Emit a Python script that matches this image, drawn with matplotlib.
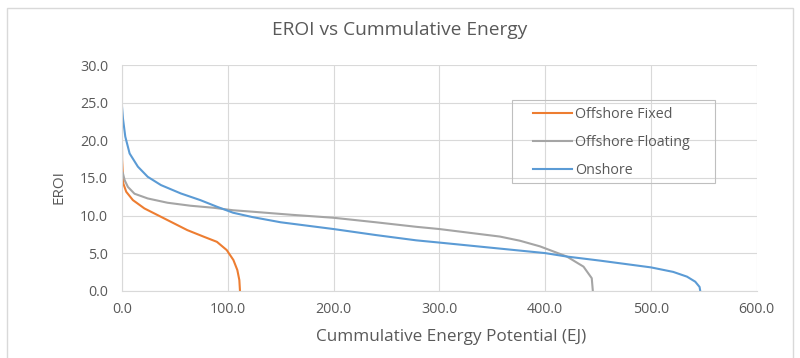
import numpy as np
import matplotlib.pyplot as plt
from matplotlib.patches import Rectangle

# values (cumulative EJ, EROI)
fixed_x = [0, 0.1, 1.2, 4, 10.3, 21.2, 33.6, 49.2, 61.7, 77.3, 89.7, 99, 105.3, 109, 110.9, 111.5]
fixed_y = [19.05, 17.4, 14.27, 13.16, 12.05, 10.94, 10.06, 8.95, 8.06, 7.18, 6.5, 5.4, 4.08, 2.75, 1.42, 0.0]

floating_x = [0, 0.9, 2.5, 5.6, 11.8, 24.3, 43, 64.8, 86.6, 105, 124, 160, 200, 240,
              278, 300, 357.2, 376, 395, 420.4, 436.2, 444, 445]
floating_y = [15.9, 15.6, 14.7, 13.8, 12.9, 12.27, 11.7, 11.3, 11.03, 10.7, 10.5, 10.1, 9.7, 9.1,
              8.5, 8.2, 7.2, 6.65, 5.9, 4.55, 3.2, 1.66, 0.0]

onshore_x = [0, 0.9, 3.1, 7.2, 15, 24.3, 36.8, 55.5, 74, 89.7, 105, 123, 150, 200, 240,
             278, 300, 350, 400, 420, 451.8, 500, 521, 534, 541.8, 545.9, 546.5]
onshore_y = [24.5, 22.9, 20.5, 18.25, 16.5, 15.15, 14.05, 12.94, 12.05, 11.17, 10.37, 9.8, 9.1, 8.2, 7.4,
             6.7, 6.4, 5.7, 5.0, 4.55, 4.0, 3.1, 2.5, 1.87, 1.2, 0.5, 0.0]

TEXT = '#595959'
GRID = '#d9d9d9'

plt.rcParams['font.family'] = ['Open Sans', 'DejaVu Sans']

fig = plt.figure(figsize=(8, 3.58), dpi=100)
ax = fig.add_axes([0.1525, 0.188, 0.7935, 0.63])

ax.plot(fixed_x, fixed_y, color='#ED7D31', lw=1.5, label='Offshore Fixed')
ax.plot(floating_x, floating_y, color='#A5A5A5', lw=1.5, label='Offshore Floating')
ax.plot(onshore_x, onshore_y, color='#5B9BD5', lw=1.5, label='Onshore')

ax.set_xlim(0, 600)
ax.set_ylim(0, 30)
ax.set_xticks(np.arange(0, 601, 100))
ax.set_yticks(np.arange(0, 31, 5))
ax.xaxis.set_major_formatter(lambda v, p: f'{v:.1f}')
ax.yaxis.set_major_formatter(lambda v, p: f'{v:.1f}')
ax.grid(True, color=GRID, lw=0.8)
ax.set_axisbelow(True)
for s in ['top', 'right']:
    ax.spines[s].set_visible(False)
for s in ['left', 'bottom']:
    ax.spines[s].set_color(GRID)
ax.tick_params(length=0, labelsize=10.3, colors=TEXT)
ax.tick_params(axis='x', pad=8)
ax.tick_params(axis='y', pad=10)

ax.set_xlabel('Cummulative Energy Potential (EJ)', fontsize=12.3, color=TEXT)
ax.xaxis.set_label_coords(0.518, -0.17)
ax.set_ylabel('EROI', fontsize=11, color=TEXT)
ax.yaxis.set_label_coords(-0.087, 0.46)
fig.text(0.5, 0.915, 'EROI vs Cummulative Energy', ha='center', va='center',
         fontsize=13.8, color=TEXT)

# legend entries without frame, box drawn separately to match the padding
leg = ax.legend(loc='upper left', bbox_to_anchor=(533 / 800, 1 - 107 / 358),
                bbox_transform=fig.transFigure, fontsize=10.3, frameon=False,
                handlelength=2.7, labelspacing=0.9, borderpad=0,
                handletextpad=0.25, borderaxespad=0)
for t in leg.get_texts():
    t.set_color(TEXT)
fig.patches.append(Rectangle((512 / 800, 1 - 183 / 358), 203 / 800, 83 / 358,
                             transform=fig.transFigure, fill=False,
                             edgecolor='#bfbfbf', lw=0.8))

# outer chart border (bottom edge falls outside the picture)
fig.patches.append(Rectangle((7 / 800, -0.02), 786 / 800, 1 - 8 / 358 + 0.02,
                             transform=fig.transFigure, fill=False,
                             edgecolor='#d9d9d9', lw=1))

fig.savefig('out.png', dpi=100)
